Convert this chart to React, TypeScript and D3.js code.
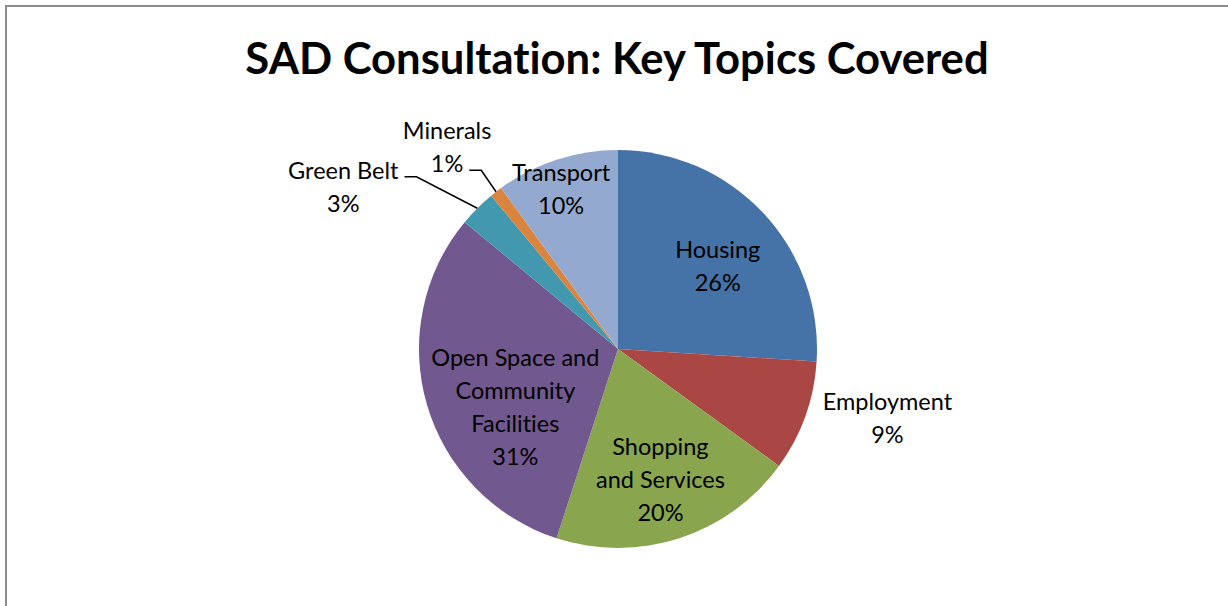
import { useEffect, useRef } from 'react';
import * as d3 from 'd3';

const W = 1228;
const H = 606;

const categories = ['Housing', 'Employment', 'Shopping and Services', 'Open Space and Community Facilities', 'Green Belt', 'Minerals', 'Transport'];
const shares = [26, 9, 20, 31, 3, 1, 10];
const colors = ['#4572a7', '#aa4643', '#89a54e', '#71588f', '#4198af', '#db843d', '#93a9cf'];

// how each label is broken into lines
const labelLines: Record<string, string[]> = {
    Housing: ['Housing'],
    Employment: ['Employment'],
    'Shopping and Services': ['Shopping', 'and Services'],
    'Open Space and Community Facilities': ['Open Space and', 'Community', 'Facilities'],
    'Green Belt': ['Green Belt'],
    Minerals: ['Minerals'],
    Transport: ['Transport']
};

// label radius (fraction of pie radius) and a small nudge, like Excel's best fit
const labelPlace: Record<string, { k: number; dx: number; dy: number; leaderLine?: number }> = {
    Housing: { k: 0.66, dx: 4, dy: 7 },
    Employment: { k: 1.38, dx: 11, dy: -24 },
    'Shopping and Services': { k: 0.69, dx: 0, dy: 0 },
    'Open Space and Community Facilities': { k: 0.6, dx: 12, dy: 25 },
    'Green Belt': { k: 1.0, dx: -134, dy: -21, leaderLine: 0 },
    Minerals: { k: 1.0, dx: -49, dy: -44, leaderLine: 1 },
    Transport: { k: 0.86, dx: -4, dy: 3 }
};

export default function App() {
    const ref = useRef<SVGSVGElement>(null);

    useEffect(() => {
        document.body.style.margin = '0';
        const svg = d3.select(ref.current);
        svg.selectAll('*').remove();

        svg.append('rect')
            .attr('x', 6)
            .attr('y', 6)
            .attr('width', W + 20)
            .attr('height', H + 20)
            .attr('fill', '#fff')
            .attr('stroke', '#8c8c8c')
            .attr('stroke-width', 2);

        svg.append('text')
            .attr('x', 617)
            .attr('y', 74)
            .attr('text-anchor', 'middle')
            .attr('font-family', 'Lato, "Open Sans", sans-serif')
            .attr('font-weight', 'bold')
            .attr('font-size', 43.6)
            .style('font-variant-ligatures', 'none')
            .attr('fill', '#000')
            .text('SAD Consultation: Key Topics Covered');

        const cx = 618;
        const cy = 349;
        const R = 199;

        const data = categories.map((name, i) => ({ name, value: shares[i], color: colors[i] }));
        const pie = d3.pie<(typeof data)[number]>().value((d) => d.value).sort(null);
        const arcs = pie(data);
        const arc = d3.arc<d3.PieArcDatum<(typeof data)[number]>>().innerRadius(0).outerRadius(R);

        const g = svg.append('g').attr('transform', `translate(${cx},${cy})`);

        g.selectAll('path.slice')
            .data(arcs)
            .enter()
            .append('path')
            .attr('class', 'slice')
            .attr('d', arc)
            .attr('fill', (d) => d.data.color);

        arcs.forEach((a) => {
            const p = labelPlace[a.data.name];
            const mid = (a.startAngle + a.endAngle) / 2;
            const r = R * p.k;
            const lx = Math.sin(mid) * r + p.dx;
            const ly = -Math.cos(mid) * r + p.dy;
            const lines = [...labelLines[a.data.name], `${a.data.value}%`];
            const lh = 33;
            const top = ly - ((lines.length - 1) * lh) / 2;

            const t = g.append('text')
                .attr('text-anchor', 'middle')
                .attr('font-family', 'Lato, "Open Sans", sans-serif')
                .attr('font-size', 23.5)
                .style('font-variant-ligatures', 'none')
                .attr('fill', '#000');
            const spans = lines.map((ln, j) =>
                t.append('tspan')
                    .attr('x', lx)
                    .attr('y', top + j * lh + 8)
                    .text(ln)
            );

            if (p.leaderLine !== undefined) {
                // leader from the right end of one label line to the slice edge
                const sp = spans[p.leaderLine].node() as SVGTSpanElement;
                const textRight = lx + sp.getComputedTextLength() / 2 + 6;
                const yLine = top + p.leaderLine * lh + 6;
                const ex = Math.sin(mid) * R;
                const ey = -Math.cos(mid) * R;
                g.append('path')
                    .attr('d', `M${textRight},${yLine}H${textRight + 12}L${ex},${ey}`)
                    .attr('fill', 'none')
                    .attr('stroke', '#000')
                    .attr('stroke-width', 1.5);
            }
        });
    }, []);

    return <svg ref={ref} width={W} height={H} style={{ display: 'block' }} />;
}
